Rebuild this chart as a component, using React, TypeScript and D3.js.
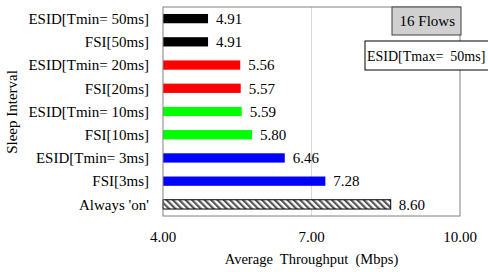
import React from 'react';
import * as d3 from 'd3';

const categories = [
  'ESID[Tmin= 50ms]',
  'FSI[50ms]',
  'ESID[Tmin= 20ms]',
  'FSI[20ms]',
  'ESID[Tmin= 10ms]',
  'FSI[10ms]',
  'ESID[Tmin= 3ms]',
  'FSI[3ms]',
  "Always 'on'",
];
const values = [4.91, 4.91, 5.56, 5.57, 5.59, 5.8, 6.46, 7.28, 8.6];
const barColors = ['#000000', '#000000', '#ff0000', '#ff0000', '#00ff00', '#00ff00', '#0000ff', '#0000ff', 'url(#hatch)'];
const xTicks = [4, 7, 10];

const App = () => {
  const width = 488;
  const height = 272;
  const margin = { top: 7, right: 28, bottom: 56, left: 163 };
  const chartWidth = width - margin.left - margin.right;
  const chartHeight = height - margin.top - margin.bottom;
  const font = "'Liberation Serif', 'DejaVu Serif', serif";

  const xScale = d3.scaleLinear().domain([4, 10]).range([0, chartWidth]);
  const yScale = d3.scaleBand()
    .domain(categories)
    .range([0, chartHeight])
    .paddingInner(0.6)
    .paddingOuter(0.3);

  return (
    <svg width={width} height={height} style={{ position: 'absolute', left: 0, top: 0, background: '#fff', fontFamily: font }}>
      <defs>
        <pattern id='hatch' patternUnits='userSpaceOnUse' width={4.5} height={4.5} patternTransform='rotate(-45)'>
          <rect width={4.5} height={4.5} fill='#ffffff' />
          <rect width={2.2} height={4.5} fill='#555555' />
        </pattern>
      </defs>
      <g transform={`translate(${margin.left}, ${margin.top})`}>
        <line x1={xScale(7)} x2={xScale(7)} y1={0} y2={chartHeight} stroke='#d9d9d9' strokeWidth={1} />
        { categories.map((c, i) =>
          <g key={`bar-${i}`}>
            <rect
              x={xScale(4)}
              y={yScale(c)}
              width={xScale(values[i]) - xScale(4)}
              height={yScale.bandwidth()}
              fill={barColors[i]}
              stroke={i === categories.length - 1 ? '#000' : 'none'}
              strokeWidth={1}
            />
            <text x={xScale(values[i]) + 8} y={yScale(c) + yScale.bandwidth() / 2} dy='0.35em' fontSize={15} fill='#000'>
              {values[i].toFixed(2)}
            </text>
            <text x={-14} y={yScale(c) + yScale.bandwidth() / 2} dy='0.35em' textAnchor='end' fontSize={15} fill='#000'>
              {c}
            </text>
          </g>
        )}
        <rect x={0} y={0} width={chartWidth} height={chartHeight} fill='none' stroke='#808080' strokeWidth={1} />
        { xTicks.map(t =>
          <text key={`tick-${t}`} x={xScale(t)} y={chartHeight + 26} textAnchor='middle' fontSize={15} fill='#000'>
            {t.toFixed(2)}
          </text>
        )}
        <text x={chartWidth / 2} y={chartHeight + 48} textAnchor='middle' fontSize={14.5} fill='#000' style={{ whiteSpace: 'pre' }}>
          {'Average  Throughput  (Mbps)'}
        </text>
      </g>
      <text transform={`translate(17, 112) rotate(-90)`} textAnchor='middle' fontSize={15} fill='#000'>
        Sleep Interval
      </text>
      <rect x={392} y={7} width={69} height={28} fill='#d0d0d0' stroke='#404040' strokeWidth={1} />
      <text x={455} y={21} dy='0.35em' textAnchor='end' fontSize={15} fill='#000'>16 Flows</text>
      <rect x={365} y={41} width={130} height={29} fill='#ffffff' stroke='#000' strokeWidth={1} />
      <text x={367} y={56} dy='0.35em' fontSize={14} fill='#000' style={{ whiteSpace: 'pre' }}>{'ESID[Tmax=  50ms]'}</text>
    </svg>
  );
};

export default App;
